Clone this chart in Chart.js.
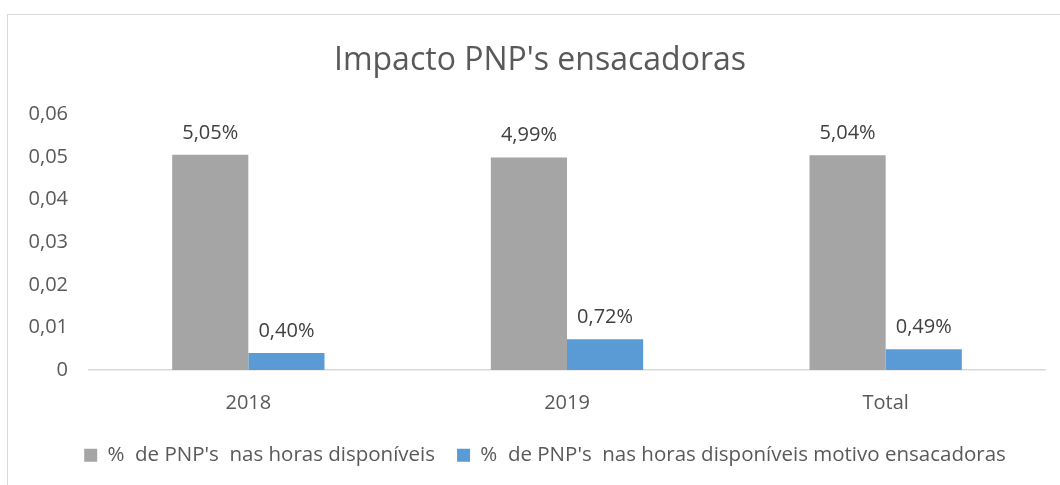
<!DOCTYPE html>
<html><head><meta charset="utf-8">
<script src="https://cdn.jsdelivr.net/npm/chart.js@4"></script>
<style>
html,body{margin:0;padding:0;background:#fff;}
#wrap{position:relative;width:1060px;height:485px;overflow:hidden;}
#frame{position:absolute;left:7px;top:14px;width:1100px;height:520px;border:1.5px solid #d9d9d9;box-sizing:border-box;}
canvas{position:absolute;left:0;top:0;}
</style></head>
<body><div id="wrap"><div id="frame"></div><canvas id="c" width="1060" height="485"></canvas></div>
<script>
const categories = ["2018", "2019", "Total"];
const seriesNames = ["%  de PNP's  nas horas disponíveis", "%  de PNP's  nas horas disponíveis motivo ensacadoras"];
const pnpTotal = [0.0505, 0.0499, 0.0504];
const pnpEnsacadoras = [0.0040, 0.0072, 0.0049];
const yTicks = [0, 0.01, 0.02, 0.03, 0.04, 0.05, 0.06];
const titleText = "Impacto PNP's ensacadoras";

const FONT = "'Open Sans', 'Liberation Sans', sans-serif";
const fmtPct = v => (v*100).toFixed(2).replace('.', ',') + '%';
const fmtTick = v => v === 0 ? '0' : v.toFixed(2).replace('.', ',');

const labelPlugin = {
  id: 'dlabels',
  afterLayout(chart) {
    const t = chart.titleBlock;
    if (t) { t.left = 35; t.right = 1045; t.width = t.right - t.left; }
    const l = chart.legend;
    if (l) { l.left = 40; l.right = 1050; }
  },
  afterDatasetsDraw(chart) {
    const ctx = chart.ctx;
    ctx.save();
    ctx.font = "20px " + FONT;
    ctx.fillStyle = '#404040';
    ctx.textAlign = 'center';
    ctx.textBaseline = 'bottom';
    chart.data.datasets.forEach((ds, i) => {
      const meta = chart.getDatasetMeta(i);
      meta.data.forEach((bar, j) => {
        ctx.fillText(fmtPct(ds.data[j]), bar.x, bar.y - 12);
      });
    });
    ctx.restore();
  }
};

new Chart(document.getElementById('c'), {
  type: 'bar',
  data: {
    labels: categories,
    datasets: [
      { label: seriesNames[0], data: pnpTotal, backgroundColor: '#a5a5a5', categoryPercentage: 0.478, barPercentage: 1 },
      { label: seriesNames[1], data: pnpEnsacadoras, backgroundColor: '#5b9bd5', categoryPercentage: 0.478, barPercentage: 1 }
    ]
  },
  options: {
    responsive: false,
    animation: false,
    devicePixelRatio: 1,
    layout: { padding: { left: 0, right: 15, top: 0, bottom: 12 } },
    plugins: {
      title: { display: true, text: titleText, color: '#595959', font: { family: FONT, size: 32, weight: 'normal' }, padding: { top: 42, bottom: 34 } },
      legend: {
        position: 'bottom',
        maxHeight: 50,
        labels: { color: '#595959', font: { family: FONT, size: 20.5 }, boxWidth: 13, boxHeight: 13, padding: 22 }
      },
      tooltip: { enabled: false }
    },
    scales: {
      x: {
        afterFit: s => { s.height = s.height - 13; },
        grid: { display: false, drawTicks: false },
        border: { display: true, color: '#d9d9d9', width: 1.5 },
        ticks: { color: '#595959', font: { family: FONT, size: 20 }, padding: 21 }
      },
      y: {
        min: 0, max: 0.06,
        afterBuildTicks: s => { s.ticks = yTicks.map(v => ({ value: v })); },
        afterFit: s => { s.width = 89; },
        grid: { display: false, drawTicks: false },
        border: { display: false },
        ticks: { color: '#595959', font: { family: FONT, size: 20 }, padding: 21, callback: v => fmtTick(v) }
      }
    }
  },
  plugins: [labelPlugin]
});
</script></body></html>
